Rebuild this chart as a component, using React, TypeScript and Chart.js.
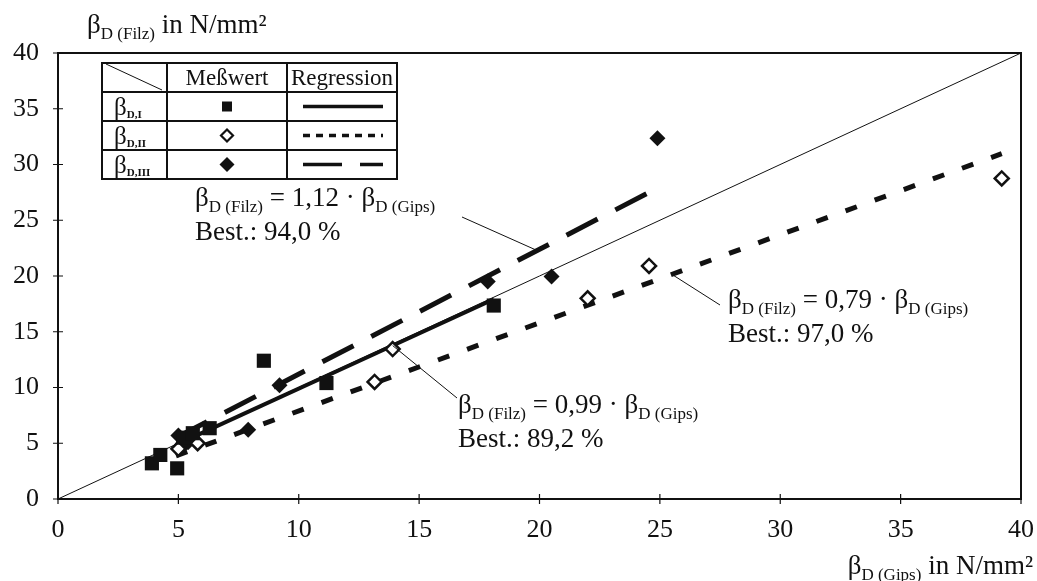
import { useEffect, useRef } from "react";
import { Chart, registerables } from "chart.js";

Chart.register(...registerables);

const SERIF = '"Liberation Serif", "Times New Roman", serif';
const INK = "#111111";

// Measured compressive strength: beta_D (Gips) on x, beta_D (Filz) on y, N/mm²
const gipsI = [3.9, 4.25, 4.95, 5.2, 5.6, 6.3, 8.55, 11.15, 18.1];
const filzI = [3.2, 3.95, 2.75, 5.5, 5.9, 6.35, 12.4, 10.4, 17.35];
const gipsII = [5.0, 5.3, 5.8, 13.15, 13.9, 22.0, 24.55, 39.2];
const filzII = [4.5, 5.4, 5.0, 10.5, 13.45, 18.0, 20.9, 28.75];
const gipsIII = [5.1, 5.4, 5.0, 7.9, 9.2, 17.85, 20.5, 24.9];
const filzIII = [4.6, 5.1, 5.7, 6.2, 10.2, 19.5, 19.95, 32.35];

// Regressions through the origin (I, II, III)
const slopes = [0.99, 0.79, 1.12];
const regFrom = [4.9, 4.9, 4.9];
const regTo = [18.1, 39.2, 24.9];
const bestimmtheit = ["89,2", "97,0", "94,0"];
// where each annotation's leader line touches its regression line (x in N/mm²)
const leaderX = [13.9, 25.5, 19.9];

const axisTicks = [0, 5, 10, 15, 20, 25, 30, 35, 40];
const rowLabels = ["D,I", "D,II", "D,III"];
const headLabels = ["Meßwert", "Regression"];

const pts = (xs: number[], ys: number[]) => xs.map((x, i) => ({ x, y: ys[i] }));
const reg = (i: number) => [
  { x: regFrom[i], y: slopes[i] * regFrom[i] },
  { x: regTo[i], y: slopes[i] * regTo[i] },
];
const fmt = (v: number) => v.toFixed(2).replace(".", ",");

type Part = [string, number, number, string?];

function richWidth(ctx: CanvasRenderingContext2D, parts: Part[]) {
  let w = 0;
  for (const [t, size, , weight] of parts) {
    ctx.font = `${weight ?? "normal"} ${size}px ${SERIF}`;
    w += ctx.measureText(t).width;
  }
  return w;
}

function drawRich(ctx: CanvasRenderingContext2D, x: number, y: number, parts: Part[]) {
  let cx = x;
  ctx.textAlign = "left";
  ctx.textBaseline = "alphabetic";
  for (const [t, size, dy, weight] of parts) {
    ctx.font = `${weight ?? "normal"} ${size}px ${SERIF}`;
    ctx.fillText(t, cx, y + dy);
    cx += ctx.measureText(t).width;
  }
}

const eqParts = (slope: number): Part[] => [
  ["β", 27, 0],
  ["D (Filz)", 17, 6],
  [` = ${fmt(slope)} · `, 27, 0],
  ["β", 27, 0],
  ["D (Gips)", 17, 6],
];

const overlay = {
  id: "overlay",
  afterDraw(chart: any) {
    const ctx: CanvasRenderingContext2D = chart.ctx;
    const { left, right, top, bottom } = chart.chartArea;
    const xs = chart.scales.x;
    const ys = chart.scales.y;
    ctx.save();
    ctx.strokeStyle = INK;
    ctx.fillStyle = INK;

    // frame
    ctx.lineWidth = 2;
    ctx.beginPath();
    ctx.moveTo(left, top);
    ctx.lineTo(right, top);
    ctx.lineTo(right, bottom);
    ctx.stroke();

    // tick marks crossing the axes
    ctx.lineWidth = 1.2;
    ctx.beginPath();
    for (const v of axisTicks) {
      const px = xs.getPixelForValue(v);
      ctx.moveTo(px, bottom - 5);
      ctx.lineTo(px, bottom + 5);
      const py = ys.getPixelForValue(v);
      ctx.moveTo(left - 5, py);
      ctx.lineTo(left + 5, py);
    }
    ctx.stroke();

    // axis titles
    drawRich(ctx, 87, 33, [
      ["β", 27, 0],
      ["D (Filz)", 17, 6],
      [" in N/mm²", 27, 0],
    ]);
    const xt: Part[] = [
      ["β", 27, 0],
      ["D (Gips)", 17, 6],
      [" in N/mm²", 27, 0],
    ];
    drawRich(ctx, 1033 - richWidth(ctx, xt), 574, xt);

    // annotations with leader lines
    const notes = [
      { i: 0, x: 458, y: 413, lx: 457, ly: 398 },
      { i: 1, x: 728, y: 308, lx: 720, ly: 305 },
      { i: 2, x: 195, y: 206, lx: 462, ly: 217 },
    ];
    ctx.lineWidth = 1;
    for (const n of notes) {
      drawRich(ctx, n.x, n.y, eqParts(slopes[n.i]));
      drawRich(ctx, n.x, n.y + 34, [[`Best.: ${bestimmtheit[n.i]} %`, 27, 0]]);
      const ex = xs.getPixelForValue(leaderX[n.i]);
      const ey = ys.getPixelForValue(slopes[n.i] * leaderX[n.i]);
      ctx.beginPath();
      ctx.moveTo(n.lx, n.ly);
      ctx.lineTo(ex, ey);
      ctx.stroke();
    }

    // legend table
    const tx = [102, 167, 287, 397];
    const ty = [63, 92, 121, 150, 179];
    ctx.fillStyle = "#ffffff";
    ctx.fillRect(tx[0], ty[0], tx[3] - tx[0], ty[4] - ty[0]);
    ctx.fillStyle = INK;
    ctx.lineWidth = 2;
    ctx.strokeRect(tx[0], ty[0], tx[3] - tx[0], ty[4] - ty[0]);
    ctx.beginPath();
    for (const c of [tx[1], tx[2]]) {
      ctx.moveTo(c, ty[0]);
      ctx.lineTo(c, ty[4]);
    }
    for (const r of [ty[1], ty[2], ty[3]]) {
      ctx.moveTo(tx[0], r);
      ctx.lineTo(tx[3], r);
    }
    ctx.stroke();
    ctx.lineWidth = 1;
    ctx.beginPath();
    ctx.moveTo(tx[0] + 4, ty[0] + 1);
    ctx.lineTo(tx[1] - 5, ty[1] - 2);
    ctx.stroke();

    ctx.font = `23px ${SERIF}`;
    ctx.textAlign = "center";
    ctx.textBaseline = "middle";
    ctx.fillText(headLabels[0], (tx[1] + tx[2]) / 2, (ty[0] + ty[1]) / 2 + 1);
    ctx.fillText(headLabels[1], (tx[2] + tx[3]) / 2, (ty[0] + ty[1]) / 2 + 1);

    const mx = (tx[1] + tx[2]) / 2;
    const lx0 = 303;
    const lx1 = 383;
    for (let r = 0; r < 3; r++) {
      const cy = (ty[r + 1] + ty[r + 2]) / 2;
      drawRich(ctx, 114, cy + 8, [
        ["β", 25, 0],
        [rowLabels[r], 11, 3, "bold"],
      ]);
      // marker
      ctx.beginPath();
      if (r === 0) {
        ctx.rect(mx - 5, cy - 5, 10, 10);
        ctx.fill();
      } else {
        const rr = r === 1 ? 6 : 7.5;
        ctx.moveTo(mx - rr, cy);
        ctx.lineTo(mx, cy - rr);
        ctx.lineTo(mx + rr, cy);
        ctx.lineTo(mx, cy + rr);
        ctx.closePath();
        if (r === 1) {
          ctx.fillStyle = "#ffffff";
          ctx.fill();
          ctx.lineWidth = 2.2;
          ctx.stroke();
          ctx.fillStyle = INK;
        } else {
          ctx.fill();
        }
      }
      // line sample
      ctx.lineWidth = 3.5;
      ctx.setLineDash(r === 0 ? [] : r === 1 ? [7, 6] : [39, 18]);
      ctx.beginPath();
      ctx.moveTo(lx0, cy);
      ctx.lineTo(lx1, cy);
      ctx.stroke();
      ctx.setLineDash([]);
    }
    ctx.restore();
  },
};

export default function App() {
  const ref = useRef<HTMLCanvasElement | null>(null);

  useEffect(() => {
    document.body.style.margin = "0";
    const canvas = ref.current;
    if (!canvas) return;

    const tickFont = { family: SERIF, size: 26 };
    const chart = new Chart(canvas, {
      type: "scatter",
      data: {
        datasets: [
          {
            label: "Winkelhalbierende",
            data: [
              { x: 0, y: 0 },
              { x: 40, y: 40 },
            ],
            showLine: true,
            borderColor: INK,
            borderWidth: 1,
            pointRadius: 0,
            order: 5,
          },
          {
            label: "Regression I",
            data: reg(0),
            showLine: true,
            borderColor: INK,
            borderWidth: 4,
            pointRadius: 0,
            order: 4,
          },
          {
            label: "Regression II",
            data: reg(1),
            showLine: true,
            borderColor: INK,
            borderWidth: 5,
            borderDash: [12, 19],
            pointRadius: 0,
            order: 4,
          },
          {
            label: "Regression III",
            data: reg(2),
            showLine: true,
            borderColor: INK,
            borderWidth: 5,
            borderDash: [35, 20],
            pointRadius: 0,
            order: 4,
          },
          {
            label: "β D,I",
            data: pts(gipsI, filzI),
            pointStyle: "rect",
            pointRadius: 10,
            backgroundColor: INK,
            borderWidth: 0,
            order: 1,
          },
          {
            label: "β D,II",
            data: pts(gipsII, filzII),
            pointStyle: "rectRot",
            pointRadius: 7,
            backgroundColor: "#ffffff",
            borderColor: INK,
            borderWidth: 2.5,
            order: 1,
          },
          {
            label: "β D,III",
            data: pts(gipsIII, filzIII),
            pointStyle: "rectRot",
            pointRadius: 8,
            backgroundColor: INK,
            borderWidth: 0,
            order: 1,
          },
        ],
      },
      options: {
        responsive: false,
        animation: false,
        layout: { padding: { left: 0, right: 16, top: 53, bottom: 0 } },
        plugins: {
          legend: { display: false },
          tooltip: { enabled: false },
        },
        scales: {
          x: {
            type: "linear",
            min: 0,
            max: 40,
            grid: { display: false, drawTicks: false },
            border: { display: true, color: INK, width: 2 },
            ticks: { stepSize: 5, font: tickFont, color: INK, padding: 16, maxRotation: 0 },
            afterFit: (s: any) => {
              s.height = 82;
              s.paddingLeft = 0;
              s.paddingRight = 0;
            },
          },
          y: {
            type: "linear",
            min: 0,
            max: 40,
            grid: { display: false, drawTicks: false },
            border: { display: true, color: INK, width: 2 },
            ticks: { stepSize: 5, font: tickFont, color: INK, padding: 19 },
            afterFit: (s: any) => {
              s.width = 58;
              s.paddingTop = 0;
              s.paddingBottom = 0;
            },
          },
        },
      },
      plugins: [overlay],
    } as any);

    return () => chart.destroy();
  }, []);

  return <canvas ref={ref} width={1037} height={581} style={{ display: "block" }} />;
}
